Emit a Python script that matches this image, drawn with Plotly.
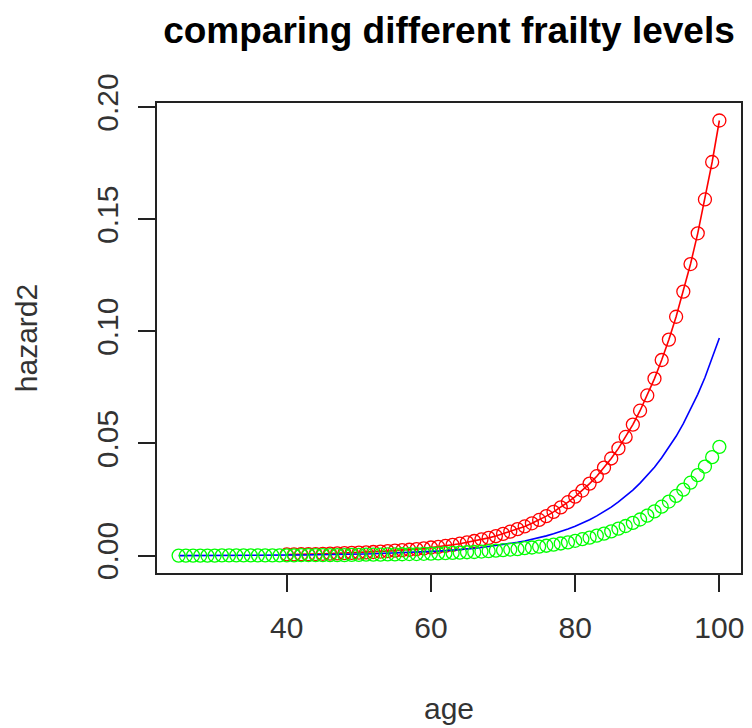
import plotly.graph_objects as go

# ages
red_age = list(range(40, 101))
blue_age = list(range(25, 101))
green_age = list(range(25, 101))

# hazard values (ascending age)
red_hazard = [0.0005, 0.0005, 0.0006, 0.0006, 0.0007, 0.0008, 0.0009, 0.0010, 0.0011, 0.0012,
              0.0013, 0.0014, 0.0016, 0.0018, 0.0020, 0.0022, 0.0024, 0.0026, 0.0029, 0.0032,
              0.0036, 0.0039, 0.0043, 0.0048, 0.0053, 0.0059, 0.0065, 0.0072, 0.0079, 0.0087,
              0.0097, 0.0107, 0.0118, 0.0130, 0.0144, 0.0159, 0.0176, 0.0195, 0.0215, 0.0238,
              0.0263, 0.0290, 0.0321, 0.0354, 0.0392, 0.0433, 0.0478, 0.0529, 0.0584, 0.0646,
              0.0714, 0.0789, 0.0872, 0.0963, 0.1065, 0.1177, 0.1300, 0.1437, 0.1588, 0.1755,
              0.1940]

blue_hazard = [0.0000, 0.0000, 0.0001, 0.0001, 0.0001, 0.0001, 0.0001, 0.0001, 0.0001, 0.0001,
               0.0001, 0.0002, 0.0002, 0.0002, 0.0002, 0.0002, 0.0003, 0.0003, 0.0003, 0.0004,
               0.0004, 0.0004, 0.0005, 0.0005, 0.0006, 0.0007, 0.0007, 0.0008, 0.0009, 0.0010,
               0.0011, 0.0012, 0.0013, 0.0015, 0.0016, 0.0018, 0.0020, 0.0022, 0.0024, 0.0027,
               0.0029, 0.0032, 0.0036, 0.0040, 0.0044, 0.0048, 0.0053, 0.0059, 0.0065, 0.0072,
               0.0080, 0.0088, 0.0097, 0.0107, 0.0119, 0.0131, 0.0145, 0.0160, 0.0177, 0.0196,
               0.0216, 0.0239, 0.0264, 0.0292, 0.0323, 0.0357, 0.0394, 0.0436, 0.0482, 0.0532,
               0.0588, 0.0650, 0.0719, 0.0794, 0.0878, 0.0970]

green_hazard = [0.0000, 0.0000, 0.0000, 0.0000, 0.0000, 0.0000, 0.0001, 0.0001, 0.0001, 0.0001,
                0.0001, 0.0001, 0.0001, 0.0001, 0.0001, 0.0001, 0.0001, 0.0002, 0.0002, 0.0002,
                0.0002, 0.0002, 0.0002, 0.0002, 0.0003, 0.0003, 0.0004, 0.0004, 0.0004, 0.0005,
                0.0005, 0.0006, 0.0007, 0.0007, 0.0008, 0.0009, 0.0010, 0.0011, 0.0012, 0.0013,
                0.0015, 0.0016, 0.0018, 0.0020, 0.0022, 0.0024, 0.0027, 0.0029, 0.0033, 0.0036,
                0.0040, 0.0044, 0.0049, 0.0054, 0.0059, 0.0066, 0.0073, 0.0080, 0.0089, 0.0098,
                0.0108, 0.0120, 0.0132, 0.0146, 0.0161, 0.0178, 0.0197, 0.0218, 0.0241, 0.0266,
                0.0294, 0.0325, 0.0359, 0.0397, 0.0439, 0.0485]

x_ticks = [40, 60, 80, 100]
y_ticks = [0.00, 0.05, 0.10, 0.15, 0.20]
y_tick_text = ["0.00", "0.05", "0.10", "0.15", "0.20"]

fig = go.Figure()
fig.add_trace(go.Scatter(x=red_age, y=red_hazard, mode="lines+markers",
                         line=dict(color="#FF0000", width=1.6),
                         marker=dict(symbol="circle-open", size=13, color="#FF0000",
                                     line=dict(width=1.3, color="#FF0000")),
                         showlegend=False))
fig.add_trace(go.Scatter(x=blue_age, y=blue_hazard, mode="lines",
                         line=dict(color="#0000FF", width=1.6),
                         showlegend=False))
fig.add_trace(go.Scatter(x=green_age, y=green_hazard, mode="markers",
                         marker=dict(symbol="circle-open", size=13, color="#00FF00",
                                     line=dict(width=1.3, color="#00FF00")),
                         showlegend=False))

font_family = "Liberation Sans, Arial, sans-serif"
fig.update_layout(
    width=752, height=728,
    margin=dict(l=157, r=8, t=103, b=155),
    paper_bgcolor="white", plot_bgcolor="white",
    font=dict(family=font_family, size=30, color="#222222"),
    title=dict(text="<b>comparing different frailty levels</b>",
               font=dict(family=font_family, size=37, color="black"),
               x=0.5, xref="paper", xanchor="center",
               y=1 - 30 / 728, yref="container", yanchor="middle"),
    xaxis=dict(range=[22, 103], tickvals=x_ticks, ticktext=[str(v) for v in x_ticks],
               showgrid=False, zeroline=False, showline=True, linecolor="#222222", linewidth=2,
               mirror=True, ticks="outside", ticklen=17, tickwidth=2, tickcolor="#222222",
               tickfont=dict(size=30, color="#333333"), ticklabelstandoff=10,
               title=dict(text="age", font=dict(size=30, color="#333333"), standoff=55)),
    yaxis=dict(range=[-0.00776, 0.2018], tickvals=y_ticks, ticktext=y_tick_text,
               showgrid=False, zeroline=False, showline=True, linecolor="#222222", linewidth=2,
               mirror=True, ticks="outside", ticklen=17, tickwidth=2, tickcolor="#222222",
               tickangle=-90, tickfont=dict(size=30, color="#333333"), ticklabelstandoff=8,
               title=dict(text="hazard2", font=dict(size=30, color="#333333"), standoff=45)),
)

fig.write_html("out.html")
